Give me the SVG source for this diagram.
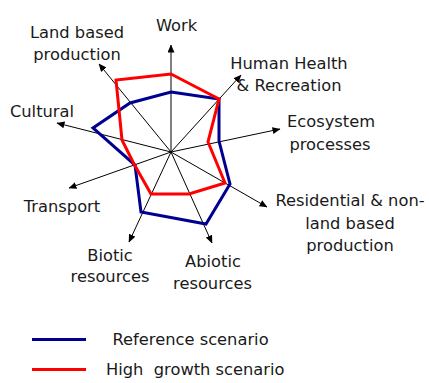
<svg xmlns="http://www.w3.org/2000/svg" width="429" height="383" viewBox="0 0 429 383">
<defs>
<marker id="arr" markerWidth="8" markerHeight="7" refX="7.5" refY="3.5" orient="auto" markerUnits="userSpaceOnUse">
<path d="M0,0 L8,3.5 L0,7 Z" fill="#000"/>
</marker>
<style>
.ax{stroke:#000;stroke-width:1;fill:none}
.lbl{font-family:"DejaVu Sans","Liberation Sans",sans-serif;font-size:16.3px;fill:#1a1a1a;text-anchor:middle}
.leg{font-family:"DejaVu Sans","Liberation Sans",sans-serif;font-size:16.3px;fill:#1a1a1a}
.ref{stroke:#000090;stroke-width:3;fill:none;stroke-linejoin:miter}
.high{stroke:#ff0000;stroke-width:3;fill:none;stroke-linejoin:miter}
</style>
</defs>
<rect width="429" height="383" fill="#fff"/>
<g id="connectors">
<line class="ax" x1="171" y1="152" x2="171" y2="45" marker-end="url(#arr)"/>
<line class="ax" x1="171" y1="152" x2="99" y2="64" marker-end="url(#arr)"/>
<line class="ax" x1="171" y1="152" x2="241" y2="75" marker-end="url(#arr)"/>
<line class="ax" x1="171" y1="152" x2="280" y2="129" marker-end="url(#arr)"/>
<line class="ax" x1="171" y1="152" x2="267" y2="207" marker-end="url(#arr)"/>
<line class="ax" x1="171" y1="152" x2="212" y2="243" marker-end="url(#arr)"/>
<line class="ax" x1="171" y1="152" x2="129" y2="242" marker-end="url(#arr)"/>
<line class="ax" x1="171" y1="152" x2="69" y2="188" marker-end="url(#arr)"/>
<line class="ax" x1="171" y1="152" x2="57" y2="123" marker-end="url(#arr)"/>
</g>
<g id="reference-scenario">
<polygon class="ref" points="171,92 219,99 219,141 230,184 206,224 141,212 135,165 93,128 130,103"/>
</g>
<g id="high-growth-scenario">
<polygon class="high" points="171,74 219,99 208,142 225,183 189,194 151,194 134,164 122,140 116,80"/>
</g>
<g id="work"><text class="lbl" x="176.5" y="30.5">Work</text></g>
<g id="land-based"><text class="lbl" x="77" y="37.5">Land based</text><text class="lbl" x="77" y="60">production</text></g>
<g id="human-health"><text class="lbl" x="289" y="68.5">Human Health</text><text class="lbl" x="289" y="91">&amp; Recreation</text></g>
<g id="cultural"><text class="lbl" x="42" y="116.5">Cultural</text></g>
<g id="ecosystem"><text class="lbl" x="331" y="127">Ecosystem</text><text class="lbl" x="330" y="149.5">processes</text></g>
<g id="transport"><text class="lbl" x="62" y="212">Transport</text></g>
<g id="residential"><text class="lbl" x="350" y="206">Residential &amp; non-</text><text class="lbl" x="350" y="228.5">land based</text><text class="lbl" x="350" y="251">production</text></g>
<g id="biotic"><text class="lbl" x="110" y="261">Biotic</text><text class="lbl" x="110" y="282">resources</text></g>
<g id="abiotic"><text class="lbl" x="213" y="267">Abiotic</text><text class="lbl" x="212.5" y="288.5">resources</text></g>
<g id="legend">
<line x1="32" y1="339.5" x2="86" y2="339.5" stroke="#000090" stroke-width="3"/>
<line x1="32" y1="369.5" x2="86" y2="369.5" stroke="#ff0000" stroke-width="3"/>
<text class="leg" x="112.5" y="345">Reference scenario</text>
<text class="leg" x="106" y="375" xml:space="preserve">High  growth scenario</text>
</g>
</svg>
